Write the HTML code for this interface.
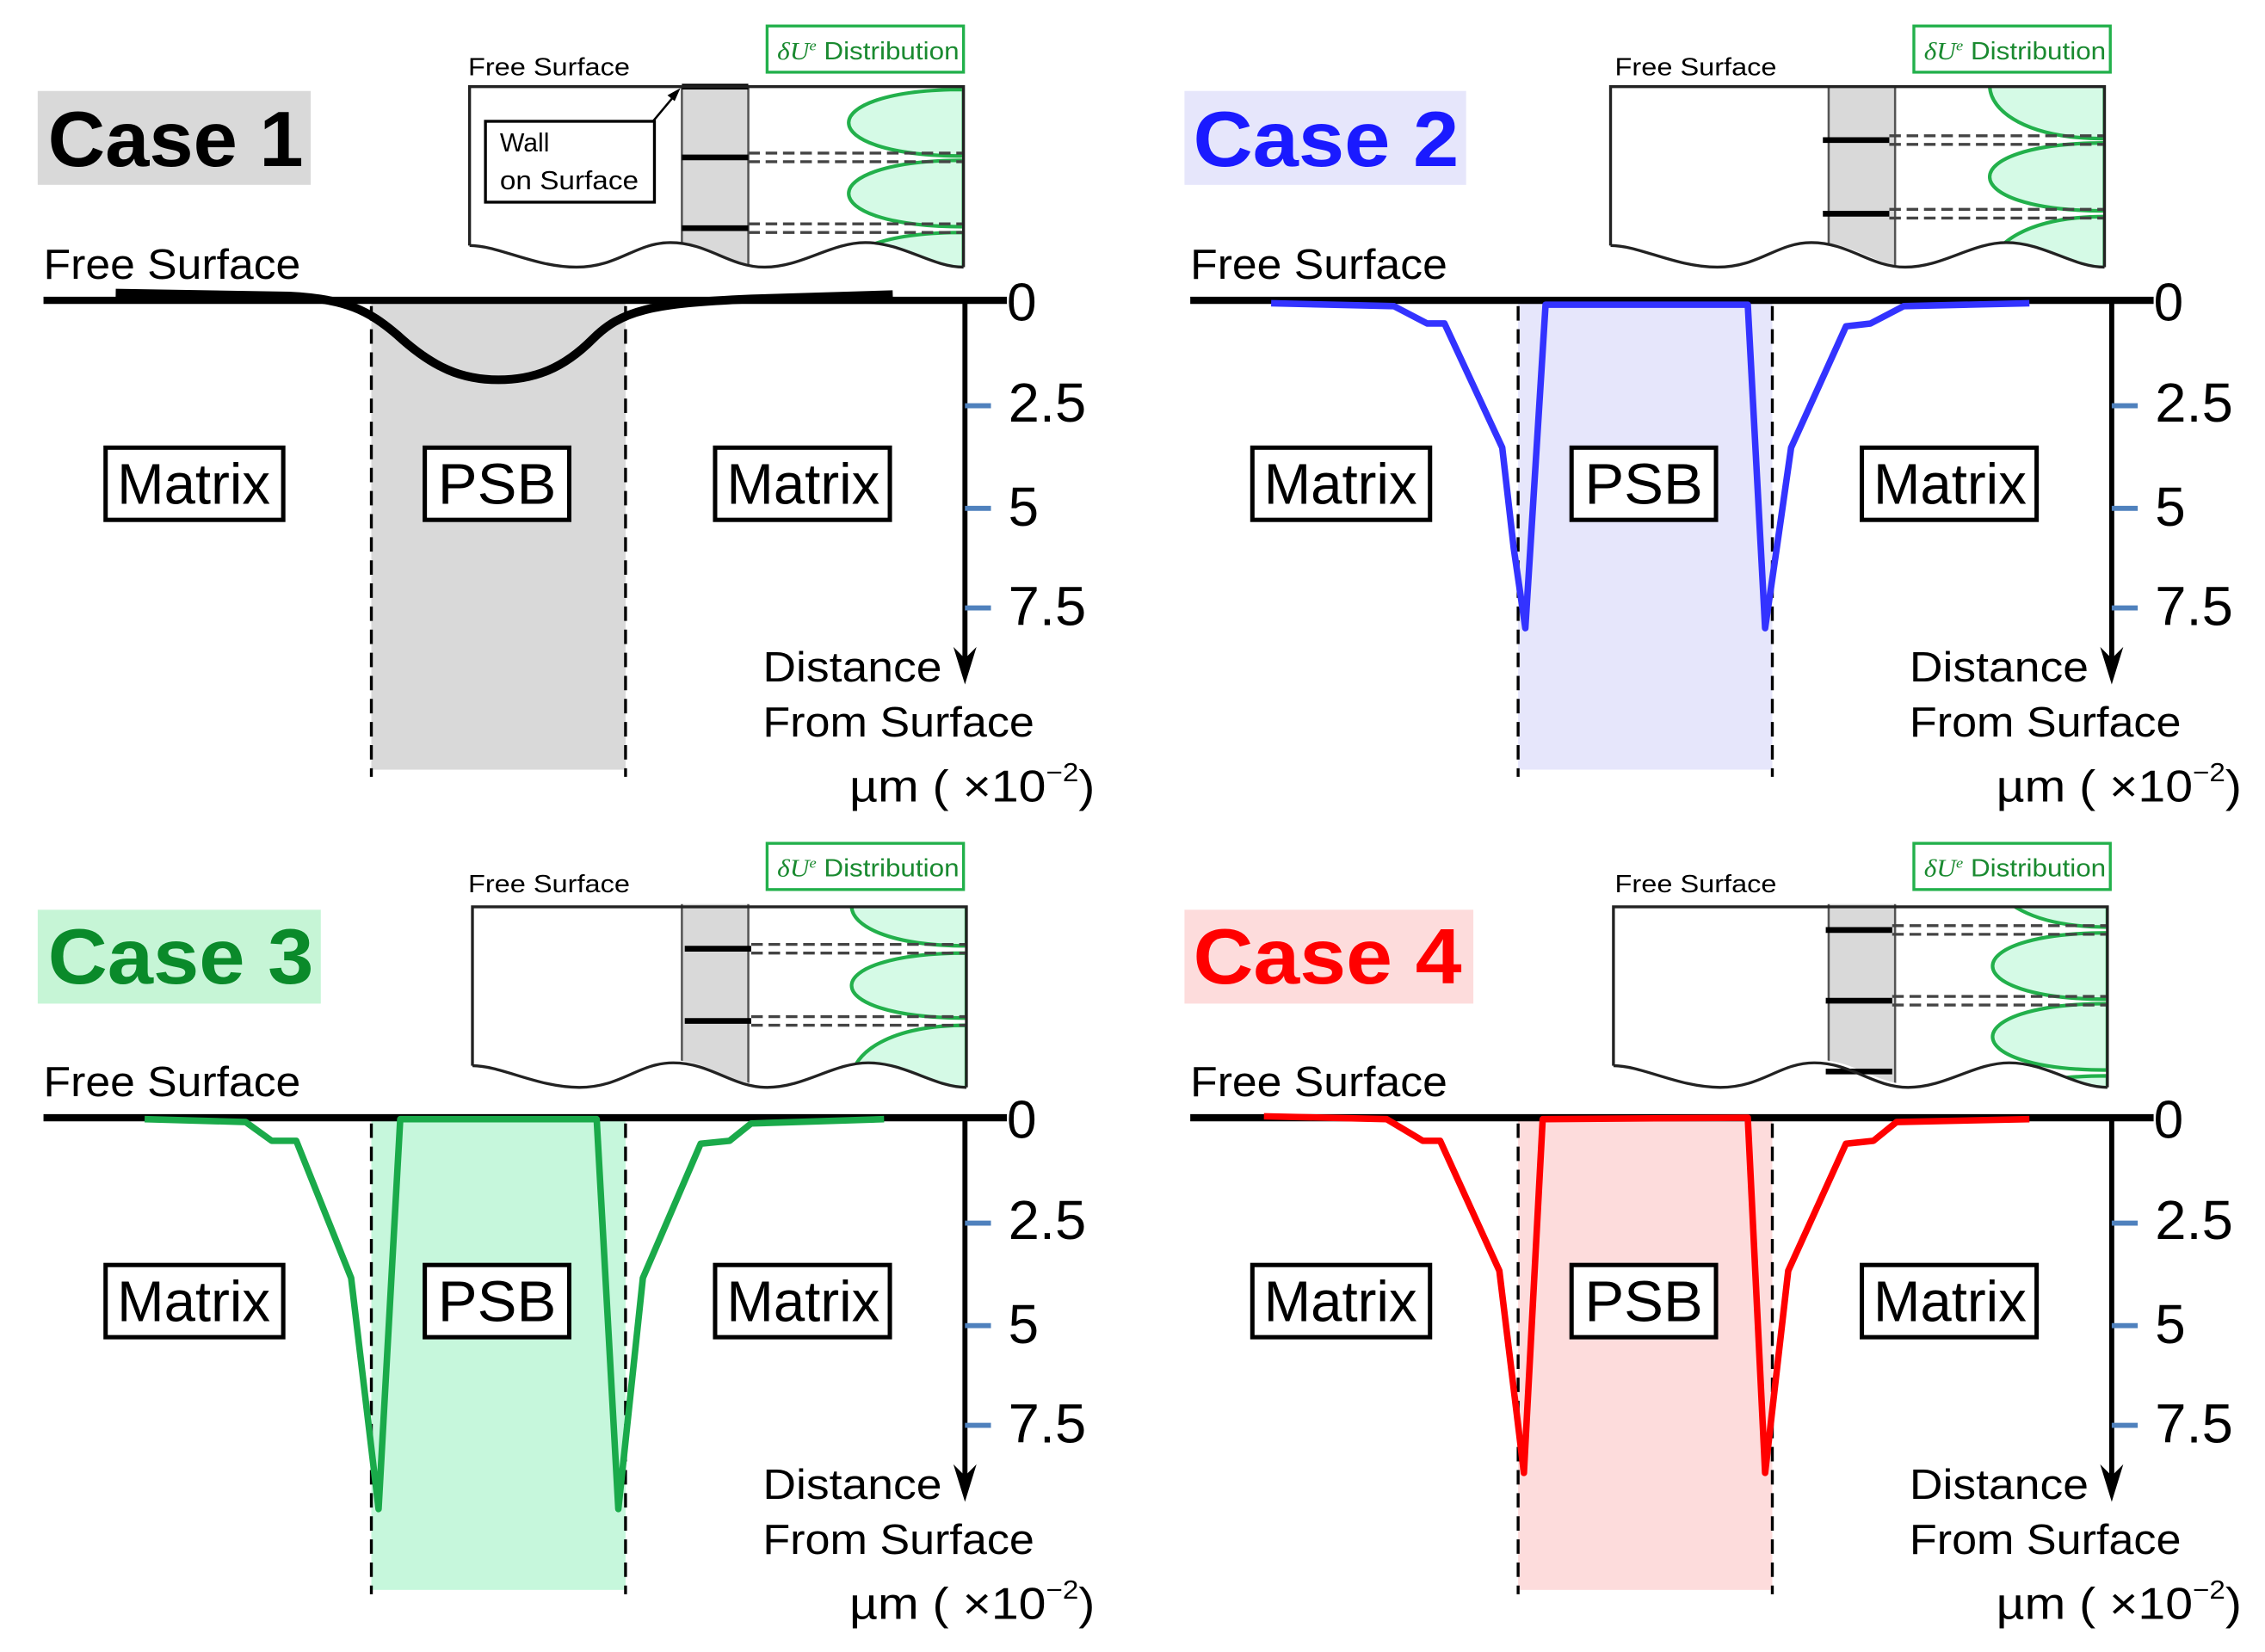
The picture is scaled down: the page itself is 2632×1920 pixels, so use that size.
<!DOCTYPE html>
<html><head><meta charset="utf-8"><style>
html,body{margin:0;padding:0;background:#fff;}
svg{display:block;}
text{font-family:"Liberation Sans Narrow","Liberation Sans",sans-serif;}
.t{font-family:"Liberation Sans",sans-serif;font-weight:bold;}
</style></head><body>
<svg width="2632" height="1920" viewBox="0 0 1568 1144" xmlns="http://www.w3.org/2000/svg">
<defs>
<clipPath id="ic"><path d="M325,60 L667,60 L667,185 C645,185 625,168 599,168 C575,168 555,185 529,185 C505,185 490,168 464,168 C440,168 428,185 399,185 C370,185 345,170 325,170 Z"/></clipPath>
<g id="axis">
  <text x="30" y="193" font-size="29" textLength="178" lengthAdjust="spacingAndGlyphs">Free Surface</text>
  <line x1="30" y1="208" x2="697" y2="208" stroke="#000" stroke-width="5"/>
  <text x="697" y="222" font-size="37">0</text>
  <line x1="668" y1="208" x2="668" y2="462" stroke="#000" stroke-width="3.5"/>
  <path d="M660,448 L668,474 L676,448 L668,456 Z" fill="#000"/>
  <g stroke="#4f81bd" stroke-width="3.5"><line x1="668" y1="281" x2="686" y2="281"/><line x1="668" y1="352" x2="686" y2="352"/><line x1="668" y1="421" x2="686" y2="421"/></g>
  <text x="698" y="292" font-size="38" textLength="54" lengthAdjust="spacingAndGlyphs">2.5</text>
  <text x="698" y="364" font-size="38">5</text>
  <text x="698" y="433" font-size="38" textLength="54" lengthAdjust="spacingAndGlyphs">7.5</text>
  <text x="528" y="472" font-size="29" textLength="124" lengthAdjust="spacingAndGlyphs">Distance</text>
  <text x="528" y="510" font-size="29" textLength="188" lengthAdjust="spacingAndGlyphs">From Surface</text>
  <text x="588" y="555" font-size="31" textLength="170" lengthAdjust="spacingAndGlyphs">µm ( ×10<tspan font-size="18" dy="-14">−2</tspan><tspan dy="14">)</tspan></text>
  <g fill="#fff" stroke="#000" stroke-width="3">
    <rect x="73" y="310" width="123" height="50"/><rect x="294" y="310" width="100" height="50"/><rect x="495" y="310" width="121" height="50"/>
  </g>
  <text x="81" y="349" font-size="40" textLength="106" lengthAdjust="spacingAndGlyphs">Matrix</text>
  <text x="303" y="349" font-size="40" textLength="82" lengthAdjust="spacingAndGlyphs">PSB</text>
  <text x="503" y="349" font-size="40" textLength="106" lengthAdjust="spacingAndGlyphs">Matrix</text>
  <g stroke="#000" stroke-width="2" stroke-dasharray="10,6"><line x1="257" y1="212" x2="257" y2="538"/><line x1="433" y1="212" x2="433" y2="538"/></g>
  <text x="324" y="52" font-size="17" textLength="112" lengthAdjust="spacingAndGlyphs">Free Surface</text>
  <rect x="531" y="18" width="136" height="32" fill="#fff" stroke="#22b04b" stroke-width="2"/>
  <text x="538" y="41" font-size="17" fill="#1a8a30" textLength="126" lengthAdjust="spacingAndGlyphs"><tspan font-family="Liberation Serif" font-style="italic">δU</tspan><tspan font-family="Liberation Serif" font-style="italic" font-size="10" dy="-6">e</tspan><tspan dy="6"> Distribution</tspan></text>
  <rect x="472" y="58" width="46" height="140" fill="#d9d9d9" clip-path="url(#ic)"/>
  <line x1="518" y1="60" x2="518" y2="185" stroke="#555" stroke-width="1.5" clip-path="url(#ic)"/>
  <line x1="472" y1="60" x2="472" y2="185" stroke="#555" stroke-width="1.5" clip-path="url(#ic)"/>
</g>
<g id="frame">
  <path d="M325,170 L325,60 L667,60 L667,185 M325,170 C345,170 370,185 399,185 C428,185 440,168 464,168 C490,168 505,185 529,185 C555,185 575,168 599,168 C625,168 645,185 667,185" fill="none" stroke="#222" stroke-width="2"/>
</g>
</defs>

<rect x="257" y="210" width="176" height="323" fill="#d9d9d9"/>
<rect x="1051" y="210" width="176" height="323" fill="#e6e6fb"/>
<rect x="257" y="776" width="176" height="325" fill="#c6f7dc"/>
<rect x="1051" y="776" width="176" height="325" fill="#fddcdc"/>

<rect x="26" y="63" width="189" height="65" fill="#d9d9d9"/>
<text class="t" x="33" y="115" font-size="54" textLength="177" lengthAdjust="spacingAndGlyphs">Case 1</text>
<rect x="820" y="63" width="195" height="65" fill="#e6e6fb"/>
<text class="t" x="826" y="115" font-size="54" fill="#1a1aff" textLength="184" lengthAdjust="spacingAndGlyphs">Case 2</text>
<rect x="26" y="630" width="196" height="65" fill="#c6f5d6"/>
<text class="t" x="33" y="681" font-size="54" fill="#0a8a2a" textLength="184" lengthAdjust="spacingAndGlyphs">Case 3</text>
<rect x="820" y="630" width="200" height="65" fill="#fddcdc"/>
<text class="t" x="826" y="681" font-size="54" fill="#ff0000" textLength="186" lengthAdjust="spacingAndGlyphs">Case 4</text>

<use href="#axis"/>
<use href="#axis" transform="translate(794,0)"/>
<use href="#axis" transform="translate(0,566)"/>
<use href="#axis" transform="translate(794,566)"/>

<!-- Case 1 inset -->
<g clip-path="url(#ic)" fill="#d5fae6" stroke="#22b04b" stroke-width="2.5">
  <path d="M667,62 C561,62 561,108 667,108 Z"/>
  <path d="M667,111 C561,111 561,157 667,157 Z"/>
  <path d="M667,161 C561,161 561,207 667,207 Z"/>
</g>
<g stroke="#000" stroke-width="4"><line x1="472" y1="60" x2="518" y2="60"/><line x1="472" y1="109" x2="518" y2="109"/><line x1="472" y1="158" x2="518" y2="158"/></g>
<g stroke="#444" stroke-width="2" stroke-dasharray="8,4"><line x1="518" y1="106" x2="667" y2="106"/><line x1="518" y1="112" x2="667" y2="112"/><line x1="518" y1="155" x2="667" y2="155"/><line x1="518" y1="161" x2="667" y2="161"/></g>
<use href="#frame"/>
<rect x="336" y="84" width="117" height="56" fill="#fff" stroke="#000" stroke-width="2"/>
<text x="346" y="105" font-size="18">Wall</text>
<text x="346" y="131" font-size="18" textLength="96" lengthAdjust="spacingAndGlyphs">on Surface</text>
<line x1="452" y1="84" x2="467" y2="66" stroke="#000" stroke-width="1.5"/>
<path d="M471,61 L462,66 L467,70 Z" fill="#000"/>

<!-- Case 2 inset -->
<g transform="translate(790,0)">
<g clip-path="url(#ic)" fill="#d5fae6" stroke="#22b04b" stroke-width="2.5">
  <path d="M667,22 C561,22 561,96 667,96 Z"/>
  <path d="M667,99 C561,99 561,146 667,146 Z"/>
  <path d="M667,150 C561,150 561,226 667,226 Z"/>
</g>
<g stroke="#000" stroke-width="4"><line x1="472" y1="97" x2="518" y2="97"/><line x1="472" y1="148" x2="518" y2="148"/></g>
<g stroke="#444" stroke-width="2" stroke-dasharray="8,4"><line x1="518" y1="94" x2="667" y2="94"/><line x1="518" y1="100" x2="667" y2="100"/><line x1="518" y1="145" x2="667" y2="145"/><line x1="518" y1="151" x2="667" y2="151"/></g>
<use href="#frame"/>
</g>

<!-- Case 3 inset -->
<g transform="translate(2,568)">
<g clip-path="url(#ic)" fill="#d5fae6" stroke="#22b04b" stroke-width="2.5">
  <path d="M667,32 C561,32 561,87 667,87 Z"/>
  <path d="M667,92 C561,92 561,137 667,137 Z"/>
  <path d="M667,142 C561,142 561,218 667,218 Z"/>
</g>
<g stroke="#000" stroke-width="4"><line x1="472" y1="89" x2="518" y2="89"/><line x1="472" y1="139" x2="518" y2="139"/></g>
<g stroke="#444" stroke-width="2" stroke-dasharray="8,4"><line x1="518" y1="86" x2="667" y2="86"/><line x1="518" y1="92" x2="667" y2="92"/><line x1="518" y1="136" x2="667" y2="136"/><line x1="518" y1="142" x2="667" y2="142"/></g>
<use href="#frame"/>
</g>

<!-- Case 4 inset -->
<g transform="translate(792,568)">
<g clip-path="url(#ic)" fill="#d5fae6" stroke="#22b04b" stroke-width="2.5">
  <path d="M667,0 C561,0 561,74 667,74 Z"/>
  <path d="M667,78 C561,78 561,124 667,124 Z"/>
  <path d="M667,127 C561,127 561,173 667,173 Z"/>
  <path d="M667,177 C561,177 561,223 667,223 Z"/>
</g>
<g stroke="#000" stroke-width="4"><line x1="472" y1="76" x2="518" y2="76"/><line x1="472" y1="125" x2="518" y2="125"/><line x1="472" y1="174" x2="518" y2="174"/></g>
<g stroke="#444" stroke-width="2" stroke-dasharray="8,4"><line x1="518" y1="73" x2="667" y2="73"/><line x1="518" y1="79" x2="667" y2="79"/><line x1="518" y1="122" x2="667" y2="122"/><line x1="518" y1="128" x2="667" y2="128"/></g>
<use href="#frame"/>
</g>

<path d="M80,203 L200,205 C240,207 255,215 275,232 C300,255 320,263 345,263 C370,263 390,255 410,235 C430,215 450,210 520,207 L618,204" fill="none" stroke="#000" stroke-width="6"/>
<polyline points="880,210 965,212 988,224 1000,224 1040,310 1048,380 1056,435 1070,211 1210,211 1222,435 1230,380 1240,310 1278,226 1295,224 1318,212 1405,210" fill="none" stroke="#3333ff" stroke-width="4.5" stroke-linejoin="round"/>
<polyline points="100,775 170,777 188,790 205,790 243,885 262,1045 277,775 413,775 428,1045 445,885 485,792 505,790 520,778 612,775" fill="none" stroke="#1aaa4a" stroke-width="4.5" stroke-linejoin="round"/>
<polyline points="875,773 960,775 985,790 997,790 1038,880 1055,1020 1068,775 1210,774 1222,1020 1238,880 1278,792 1297,790 1313,777 1405,775" fill="none" stroke="#ff0000" stroke-width="4.5" stroke-linejoin="round"/>
</svg>
</body></html>
